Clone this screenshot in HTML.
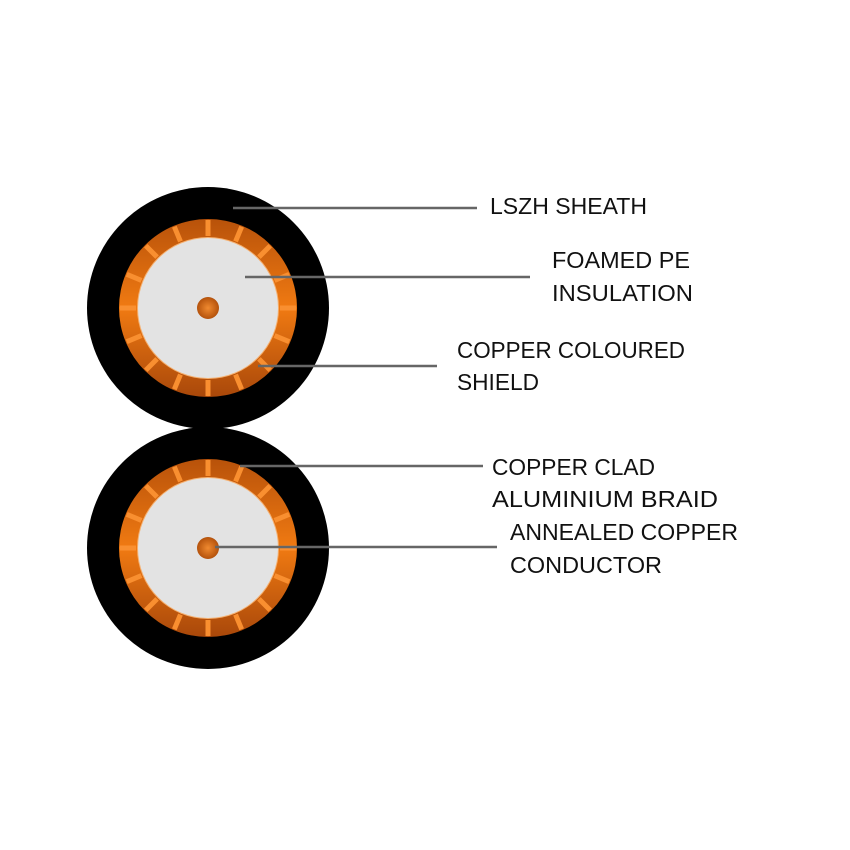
<!DOCTYPE html>
<html><head><meta charset="utf-8"><style>html,body{margin:0;padding:0;background:#fff}svg{display:block}</style></head>
<body>
<svg width="850" height="850" viewBox="0 0 850 850" xmlns="http://www.w3.org/2000/svg">
<defs>
<linearGradient id="og" x1="0" y1="0" x2="0" y2="1">
<stop offset="0" stop-color="#b8520a"/><stop offset="0.5" stop-color="#f07a12"/><stop offset="1" stop-color="#a9480a"/>
</linearGradient>
<radialGradient id="cg" cx="0.5" cy="0.5" r="0.5">
<stop offset="0" stop-color="#f08a30"/><stop offset="1" stop-color="#b4520c"/>
</radialGradient>
<g id="tk">
<line x1="0" y1="-72" x2="0" y2="-88" stroke="#f98f30" stroke-width="5"/>
</g>
<g id="cable">
<circle r="121" fill="#000"/>
<circle r="89" fill="url(#og)"/>
<g>
<use href="#tk" transform="rotate(0)"/><use href="#tk" transform="rotate(22.5)"/><use href="#tk" transform="rotate(45)"/><use href="#tk" transform="rotate(67.5)"/>
<use href="#tk" transform="rotate(90)"/><use href="#tk" transform="rotate(112.5)"/><use href="#tk" transform="rotate(135)"/><use href="#tk" transform="rotate(157.5)"/>
<use href="#tk" transform="rotate(180)"/><use href="#tk" transform="rotate(202.5)"/><use href="#tk" transform="rotate(225)"/><use href="#tk" transform="rotate(247.5)"/>
<use href="#tk" transform="rotate(270)"/><use href="#tk" transform="rotate(292.5)"/><use href="#tk" transform="rotate(315)"/><use href="#tk" transform="rotate(337.5)"/>
</g>
<circle r="71" fill="#f5b070"/>
<circle r="70" fill="#e3e3e3"/>
<circle r="11" fill="url(#cg)"/>
</g>
</defs>
<use href="#cable" x="208" y="548"/>
<use href="#cable" x="208" y="308"/>
<g stroke="#666" stroke-width="2.5">
<line x1="233" y1="208" x2="477" y2="208"/>
<line x1="245" y1="277" x2="530" y2="277"/>
<line x1="258" y1="366" x2="437" y2="366"/>
<line x1="240" y1="466" x2="483" y2="466"/>
<line x1="215" y1="547" x2="497" y2="547"/>
</g>
<g font-family="Liberation Sans, sans-serif" font-size="23" fill="#111">
<text x="490" y="214" textLength="157" lengthAdjust="spacingAndGlyphs">LSZH SHEATH</text>
<text x="552" y="268" textLength="138" lengthAdjust="spacingAndGlyphs">FOAMED PE</text>
<text x="552" y="301" textLength="141" lengthAdjust="spacingAndGlyphs">INSULATION</text>
<text x="457" y="358" textLength="228" lengthAdjust="spacingAndGlyphs">COPPER COLOURED</text>
<text x="457" y="390" textLength="82" lengthAdjust="spacingAndGlyphs">SHIELD</text>
<text x="492" y="475" textLength="163" lengthAdjust="spacingAndGlyphs">COPPER CLAD</text>
<text x="492" y="507" textLength="226" lengthAdjust="spacingAndGlyphs">ALUMINIUM  BRAID</text>
<text x="510" y="540" textLength="228" lengthAdjust="spacingAndGlyphs">ANNEALED COPPER</text>
<text x="510" y="573" textLength="152" lengthAdjust="spacingAndGlyphs">CONDUCTOR</text>
</g>
</svg>
</body></html>
